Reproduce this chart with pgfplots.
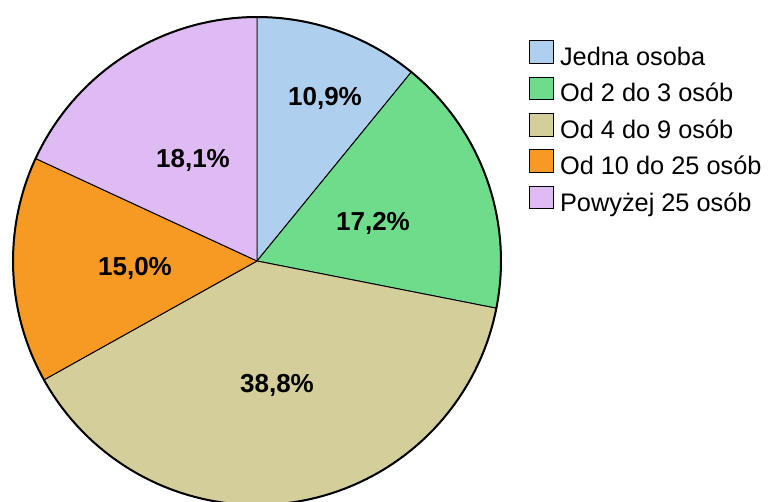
\documentclass[border=0pt]{standalone}
\usepackage{pgfplots}
\pgfplotsset{compat=1.18}
\usepackage{fontspec}
\setmainfont{Liberation Sans}
\definecolor{cA}{HTML}{AED0EE}
\definecolor{cB}{HTML}{6FDC8C}
\definecolor{cC}{HTML}{D4CE9A}
\definecolor{cD}{HTML}{F79A24}
\definecolor{cE}{HTML}{DEBBF2}
\begin{document}
\begin{tikzpicture}
\begin{axis}[
  width=576.75pt, height=376.5pt, scale only axis,
  xmin=0, xmax=769, ymin=-502, ymax=0,
  xtick=\empty, ytick=\empty, axis line style={draw=none},
  legend style={at={(axis cs:529,-40)}, anchor=north west, draw=none, fill=none,
    font=\fontsize{19}{21}\selectfont, row sep=6.8pt, inner sep=0pt,
    nodes={inner sep=0pt}},
  legend cell align=left,
  legend image code/.code={\draw[#1, draw=black, line width=0.5pt] (0pt,-4.5pt) rectangle (17.5pt,12.5pt); \path (22.5pt,0pt);},
]
% percentages: 10.9, 17.2, 38.8, 15.0, 18.1 (clockwise from top)
\addplot[fill=cA, draw=black, line width=0.7pt, domain=50.76:90, samples=40]
  ({257+244*cos(x)},{-261+244*sin(x)}) -- (axis cs:257,-261) -- cycle;
\addlegendentry{Jedna osoba}
\addplot[fill=cB, draw=black, line width=0.7pt, domain=-11.16:50.76, samples=60]
  ({257+244*cos(x)},{-261+244*sin(x)}) -- (axis cs:257,-261) -- cycle;
\addlegendentry{Od 2 do 3 osób}
\addplot[fill=cC, draw=black, line width=0.7pt, domain=-150.84:-11.16, samples=120]
  ({257+244*cos(x)},{-261+244*sin(x)}) -- (axis cs:257,-261) -- cycle;
\addlegendentry{Od 4 do 9 osób}
\addplot[fill=cD, draw=black, line width=0.7pt, domain=-204.84:-150.84, samples=50]
  ({257+244*cos(x)},{-261+244*sin(x)}) -- (axis cs:257,-261) -- cycle;
\addlegendentry{Od 10 do 25 osób}
\addplot[fill=cE, draw=black, line width=0.7pt, domain=-270:-204.84, samples=60]
  ({257+244*cos(x)},{-261+244*sin(x)}) -- (axis cs:257,-261) -- cycle;
\addlegendentry{Powyżej 25 osób}
\addplot[draw=black, line width=1.5pt, domain=0:360, samples=200, forget plot]
  ({257+244*cos(x)},{-261+244*sin(x)});
\node[font=\fontsize{19.5}{21}\bfseries] at (axis cs:325,-98) {10,9\%};
\node[font=\fontsize{19.5}{21}\bfseries] at (axis cs:373,-223) {17,2\%};
\node[font=\fontsize{19.5}{21}\bfseries] at (axis cs:277,-385) {38,8\%};
\node[font=\fontsize{19.5}{21}\bfseries] at (axis cs:135,-268) {15,0\%};
\node[font=\fontsize{19.5}{21}\bfseries] at (axis cs:193,-160) {18,1\%};
\end{axis}
\end{tikzpicture}
\end{document}
